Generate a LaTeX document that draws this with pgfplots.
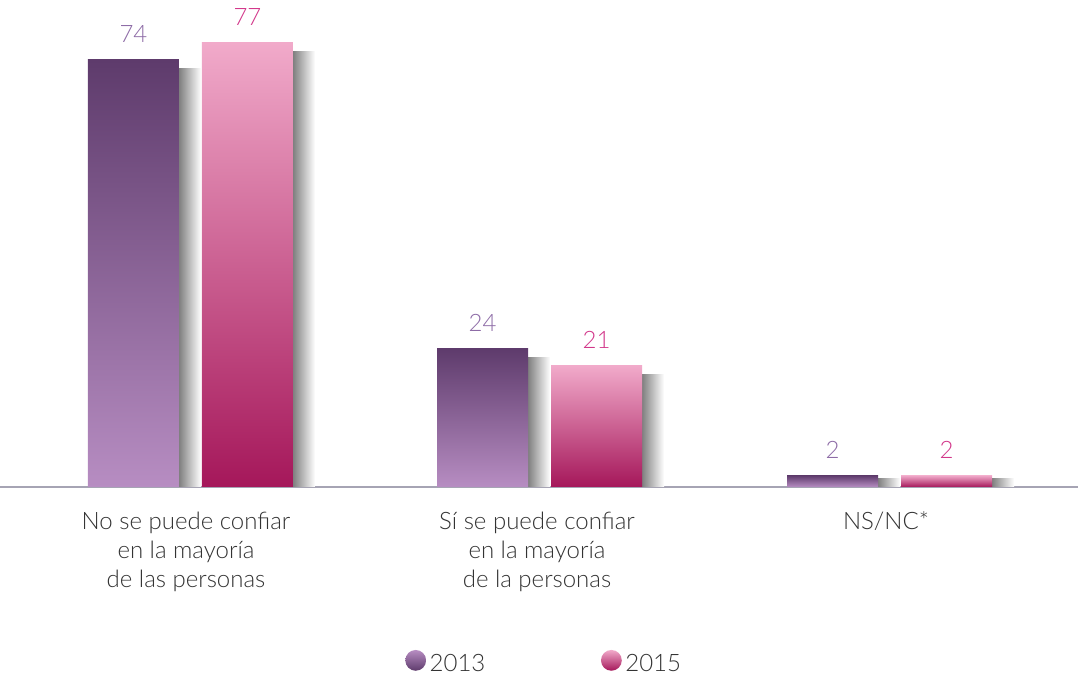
\documentclass[border=0pt]{standalone}
\usepackage{fontspec}
\setmainfont{Lato Light}
\usepackage{pgfplots}
\pgfplotsset{compat=1.18}
\definecolor{p13top}{HTML}{5E3B6C}
\definecolor{p13bot}{HTML}{B78DC2}
\definecolor{p15top}{HTML}{F1AACA}
\definecolor{p15bot}{HTML}{A5175A}
\definecolor{lab13}{HTML}{8D6BA6}
\definecolor{lab15}{HTML}{D2378A}
\definecolor{axisgray}{HTML}{A6A4B4}
\definecolor{txt}{HTML}{333333}

\pgfplotsset{
  shadow13/.style={forget plot, draw=none, bar width=22, bar shift=-0.5,
    left color=black!50, right color=white},
  shadow15/.style={forget plot, draw=none, bar width=22, bar shift=113.5,
    left color=black!50, right color=white},
  bar13/.style={draw=none, bar shift=-57, top color=p13top, bottom color=p13bot,
    nodes near coords, every node near coord/.append style={text=lab13,
      font=\fontsize{12}{13}\selectfont, yshift=5pt},
    legend image code/.code={
      \pgfpathrectangle{\pgfpoint{-6pt}{-1pt}}{\pgfpoint{11pt}{10pt}}%
      \pgfusepath{use as bounding box}%
      \shade[top color=p13bot, bottom color=p13top] (0pt,0.22em) circle (5.2pt);}},
  bar15/.style={draw=none, bar shift=57, top color=p15top, bottom color=p15bot,
    nodes near coords, every node near coord/.append style={text=lab15,
      font=\fontsize{12}{13}\selectfont, yshift=5pt},
    legend image code/.code={
      \pgfpathrectangle{\pgfpoint{-6pt}{-1pt}}{\pgfpoint{11pt}{10pt}}%
      \pgfusepath{use as bounding box}%
      \shade[top color=p15top, bottom color=p15bot] (0pt,0.22em) circle (5.2pt);}},
}

\begin{document}
\begin{tikzpicture}
\begin{axis}[
  scale only axis, width=539pt, height=243.5pt,
  xmin=0, xmax=1078, ymin=0, ymax=84.4,
  ybar, bar width=91,
  axis y line=none, axis x line*=bottom,
  x axis line style={axisgray, line width=0.8pt},
  xtick={186,537,886}, major tick length=0,
  xticklabels={{No se puede confiar\\en la mayoría\\de las personas},
               {Sí se puede confiar\\en la mayoría\\de la personas},
               {NS/NC*}},
  xticklabel style={align=center, font=\fontsize{12}{14.5}\selectfont, text=txt, yshift=-9pt},
  /pgf/number format/assume math mode=true,
  clip=false,
  legend style={at={(0.505,-0.361)}, anchor=center, draw=none, fill=none,
    legend columns=2, font=\fontsize{12}{13}\selectfont, text=txt,
    /tikz/every even column/.append style={column sep=55pt}},
]
% shadows
\addplot[shadow13] coordinates {(190.5,72.5)};
\addplot[shadow13] coordinates {(539.5,22.5)};
\addplot[shadow13] coordinates {(889.5,1.5)};
\addplot[shadow15] coordinates {(190.5,75.5)};
\addplot[shadow15] coordinates {(539.5,19.5)};
\addplot[shadow15] coordinates {(889.5,1.5)};
% bars, one per category so that each has its own gradient
\addplot[bar13] coordinates {(190.5,74)};
\addplot[bar15] coordinates {(190.5,77)};
\addplot[bar13, forget plot] coordinates {(539.5,24)};
\addplot[bar13, forget plot] coordinates {(889.5,2)};
\addplot[bar15, forget plot] coordinates {(539.5,21)};
\addplot[bar15, forget plot] coordinates {(889.5,2)};
\legend{2013,2015}
\end{axis}
\pgfresetboundingbox
\path (0,-95.5pt) rectangle (539pt,243.5pt);
\end{tikzpicture}
\end{document}
